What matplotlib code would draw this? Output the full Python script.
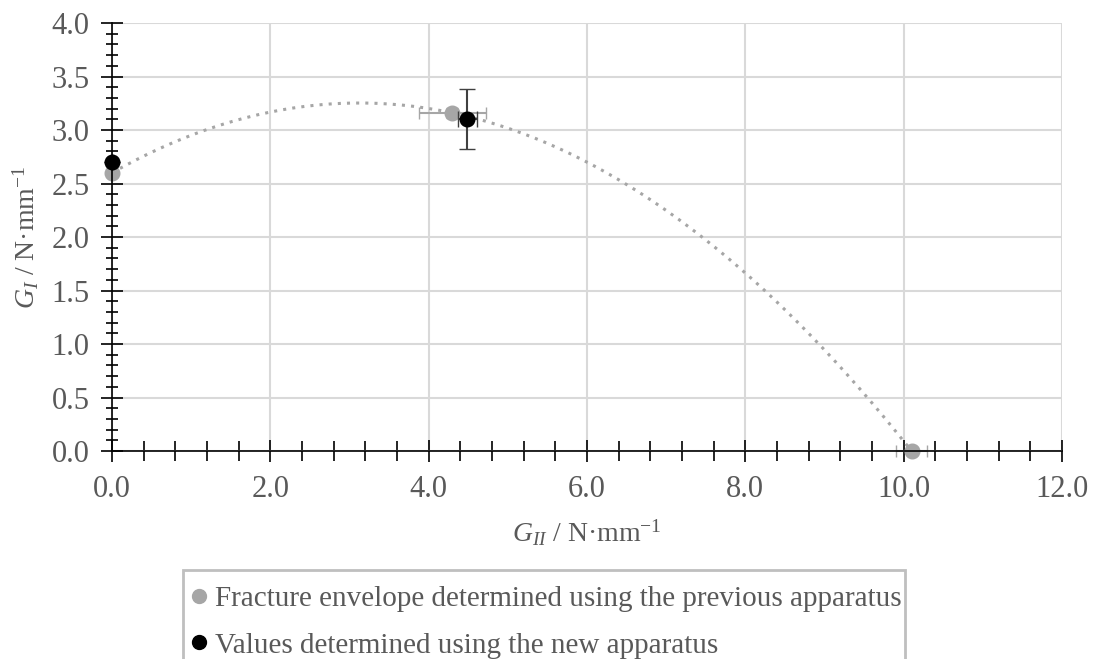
import numpy as np
import matplotlib
matplotlib.use('Agg')
import matplotlib.pyplot as plt
import matplotlib.ticker as ticker
from matplotlib.lines import Line2D
from matplotlib.patches import Rectangle

# fracture envelope, previous apparatus
prev_gii = [0.0, 4.3, 10.1]
prev_gi = [2.6, 3.16, 0.0]
prev_gii_err = [0.0, 0.42, 0.2]
prev_gi_err = [0.0, 0.05, 0.0]

# new apparatus
new_gii = [0.0, 4.49]
new_gi = [2.7, 3.10]
new_gii_err = [0.0, 0.12]
new_gi_err = [0.0, 0.28]

labels = ['Fracture envelope determined using the previous apparatus',
          'Values determined using the new apparatus']

plt.rcParams['font.family'] = ['Liberation Serif', 'DejaVu Serif']
plt.rcParams['mathtext.fontset'] = 'custom'
plt.rcParams['mathtext.rm'] = 'Liberation Serif'
plt.rcParams['mathtext.it'] = 'Liberation Serif:italic'

txt = '#595959'
grey = '#a6a6a6'

fig = plt.figure(figsize=(10.93, 6.59), dpi=100)
ax = fig.add_axes([0.1025, 0.3156, 0.8691, 0.6495])

# polynomial trendline (2nd order) through the previous-apparatus points
coef = np.polyfit(prev_gii, prev_gi, 2)
xs = np.linspace(0.0, max(prev_gii), 200)
ax.plot(xs, np.polyval(coef, xs), ls=(0, (1, 2)), lw=2.2, color=grey, zorder=2)

e1 = ax.errorbar(prev_gii, prev_gi, xerr=prev_gii_err, yerr=prev_gi_err, fmt='o', ms=10.5,
                 color=grey, ecolor=grey, elinewidth=1.5, capsize=4, zorder=3)
e2 = ax.errorbar(new_gii, new_gi, xerr=new_gii_err, yerr=new_gi_err, fmt='o', ms=10.5,
                 color='black', ecolor='#404040', elinewidth=1.5, capsize=6, zorder=4)
for e in (e1, e2):
    e[0].set_clip_on(False)
    for c in e[1]:
        c.set_clip_on(False)
    for b in e[2]:
        b.set_clip_on(False)

ax.set_xlim(0, 12)
ax.set_ylim(0, 4)
ax.xaxis.set_major_locator(ticker.MultipleLocator(2))
ax.xaxis.set_minor_locator(ticker.MultipleLocator(0.4))
ax.yaxis.set_major_locator(ticker.MultipleLocator(0.5))
ax.yaxis.set_minor_locator(ticker.MultipleLocator(0.1))
ax.xaxis.set_major_formatter(ticker.FormatStrFormatter('%.1f'))
ax.yaxis.set_major_formatter(ticker.FormatStrFormatter('%.1f'))

ax.grid(True, which='major', color='#d9d9d9', lw=1.5)
ax.set_axisbelow(True)
for s in ['top', 'right']:
    ax.spines[s].set_visible(False)
for s in ['left', 'bottom']:
    ax.spines[s].set_color('black')
    ax.spines[s].set_linewidth(1.2)
    ax.spines[s].set_zorder(5)

ax.tick_params(axis='both', which='major', direction='inout', length=16, width=1.2,
               colors='black', labelcolor=txt, labelsize=22)
ax.tick_params(axis='x', which='minor', direction='inout', length=14, width=1.2, colors='black')
ax.tick_params(axis='y', which='minor', direction='inout', length=9, width=1.2, colors='black')
ax.tick_params(axis='x', which='major', pad=9)
ax.tick_params(axis='y', which='major', pad=8)

ax.set_xlabel(r'$G_{II}$ / N·mm$^{-1}$', fontsize=20, color=txt, labelpad=10)
ax.set_ylabel(r'$G_{I}$ / N·mm$^{-1}$', fontsize=20, color=txt, labelpad=8)

# legend box runs off the bottom of the picture
fig.patches.append(Rectangle((0.1674, -0.05), 0.6606, 0.1851, transform=fig.transFigure,
                             fill=False, edgecolor='#bfbfbf', lw=2))
handles = [Line2D([], [], ls='none', marker='o', ms=10, color=grey),
           Line2D([], [], ls='none', marker='o', ms=10, color='black')]
leg = fig.legend(handles, labels, loc='upper left', bbox_to_anchor=(0.1685, 0.122),
                 fontsize=21, frameon=False,
                 handlelength=0.5, handletextpad=0.3, labelspacing=0.68,
                 borderpad=0.25, borderaxespad=0)
for t in leg.get_texts():
    t.set_color(txt)

fig.savefig('out.png', dpi=100)
